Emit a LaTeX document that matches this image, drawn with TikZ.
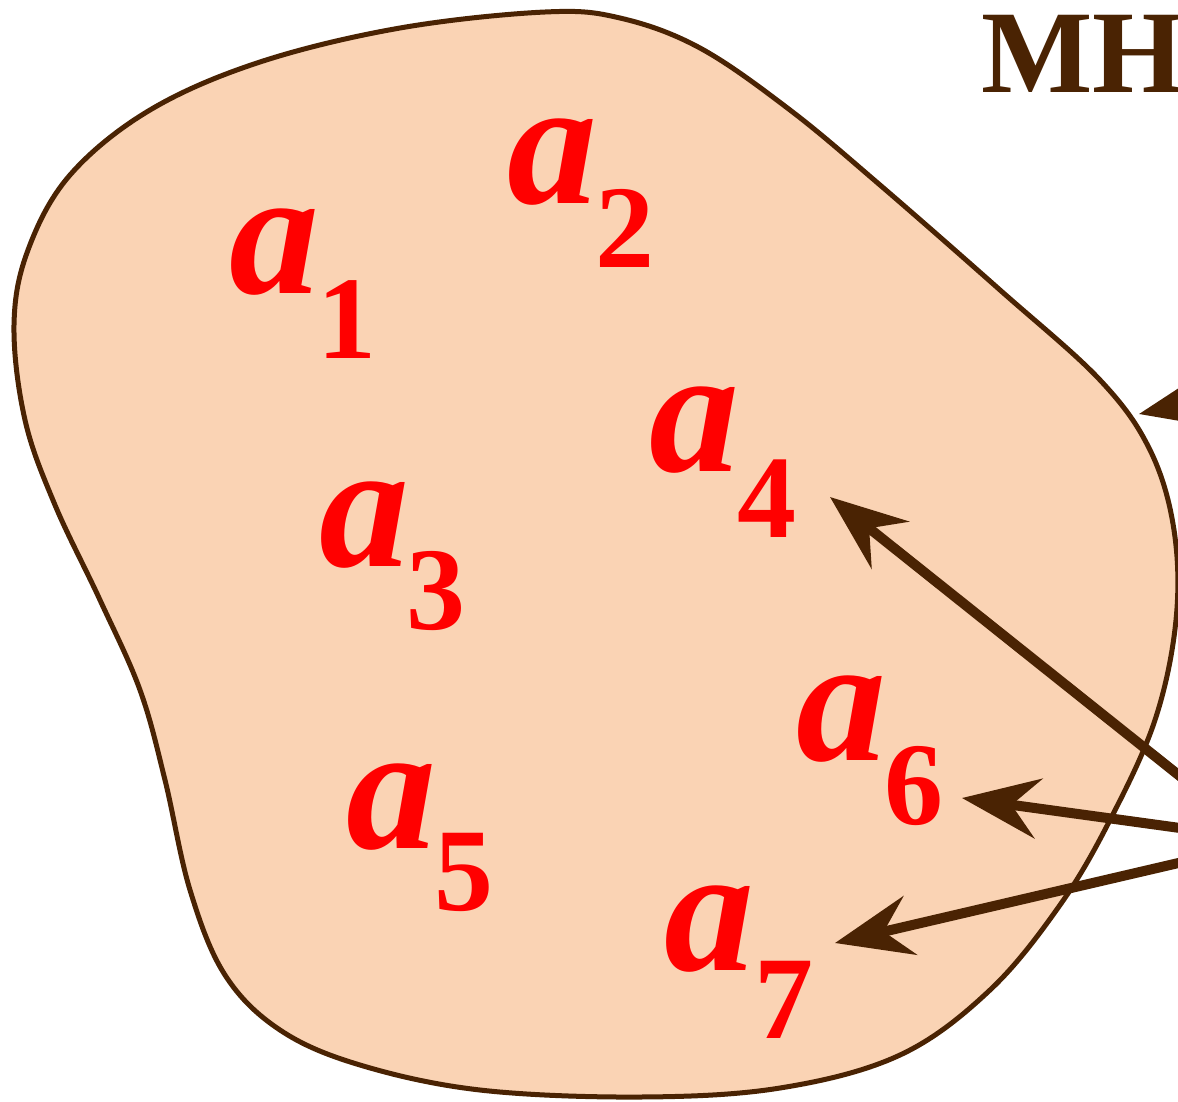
\documentclass[tikz,border=0pt]{standalone}
\usepackage{fontspec}
\setmainfont{Liberation Serif}
\usetikzlibrary{arrows.meta}
\definecolor{blobfill}{HTML}{FAD3B4}
\definecolor{darkbrn}{HTML}{4A2303}
\begin{document}
\begin{tikzpicture}[x=1pt,y=-1pt,
  avar/.style={font=\fontsize{180}{180}\selectfont\bfseries\itshape, text=red, inner sep=0pt, anchor=base},
  sub/.style={font=\fontsize{118}{118}\selectfont\bfseries, text=red, inner sep=0pt, anchor=base},
  arr/.style={draw=darkbrn, line width=10pt, -{Stealth[length=77pt, width=60pt, inset=27pt, fill=darkbrn]}},
  blob/.style={draw=darkbrn, line width=5pt, fill=blobfill}]
\useasboundingbox (0,0) rectangle (1178,1101);
\clip (0,0) rectangle (1178,1101);
% blob
\draw[blob] plot[smooth cycle, tension=0.6] coordinates {
 (14,325) (28,250) (70,175) (150,110) (260,62) (400,28) (545,12) (620,18)
 (700,48) (790,110) (880,185) (1000,290) (1100,380) (1150,450) (1174,530)
 (1176,620) (1155,720) (1110,820) (1060,905) (990,990) (900,1055) (780,1088)
 (640,1097) (480,1090) (360,1065) (280,1030) (225,975) (190,890) (165,780)
 (140,690) (100,600) (55,505) (25,420)};
% labels
\node[avar] (a1) at (274,293) {a};
\node[sub]  (s1) at (347,358) {1};
\node[avar] (a2) at (552,203) {a};
\node[sub]  (s2) at (625,267) {2};
\node[avar] (a4) at (694,471) {a};
\node[sub]  (s4) at (767,537) {4};
\node[avar] (a3) at (364,566) {a};
\node[sub]  (s3) at (436,629) {3};
\node[avar] (a6) at (841,760) {a};
\node[sub]  (s6) at (914,824) {6};
\node[avar] (a5) at (391,848) {a};
\node[sub]  (s5) at (464,910) {5};
\node[avar] (a7) at (709,970) {a};
\node[sub]  (s7) at (784,1038) {7};
\node[font=\fontsize{118}{118}\selectfont\bfseries, text=darkbrn, inner sep=0pt, anchor=base west] (mh) at (981,92) {MH};
% arrows
\coordinate (t4) at (830,497);
\coordinate (f4) at (1260,840);
\coordinate (t6) at (962,798);
\coordinate (f6) at (1260,839);
\coordinate (t7) at (835,943);
\coordinate (f7) at (1260,844);
\coordinate (t0) at (1139,414);
\coordinate (f0) at (1380,364);
\draw[arr] (f4) -- (t4);
\draw[arr] (f6) -- (t6);
\draw[arr] (f7) -- (t7);
\draw[arr] (f0) -- (t0);
\end{tikzpicture}
\end{document}
